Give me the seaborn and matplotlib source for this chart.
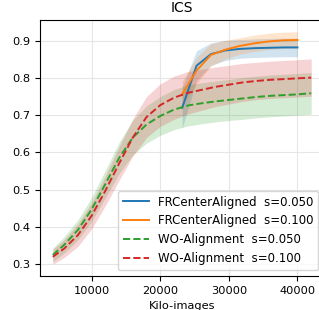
import numpy as np
import pandas as pd
import seaborn as sns
import matplotlib
matplotlib.use('Agg')
import matplotlib.pyplot as plt

# WO-Alignment runs (kimg, mean, band half-width)
wo_kimg = [4350, 6000, 8000, 10000, 12000, 14000, 16000, 18000, 20000, 22000,
           24000, 26000, 28000, 30000, 32000, 34000, 36000, 38000, 40000, 42000]
wo_s005 = [0.325, 0.352, 0.392, 0.447, 0.515, 0.585, 0.640, 0.675, 0.698, 0.715,
           0.726, 0.732, 0.737, 0.741, 0.745, 0.749, 0.752, 0.754, 0.756, 0.759]
wo_s005_sd = [0.018, 0.022, 0.027, 0.032, 0.037, 0.042, 0.046, 0.050, 0.052, 0.054,
              0.055, 0.055, 0.055, 0.055, 0.056, 0.056, 0.056, 0.056, 0.056, 0.056]
wo_s010 = [0.320, 0.342, 0.378, 0.430, 0.497, 0.570, 0.640, 0.695, 0.727, 0.747,
           0.760, 0.768, 0.776, 0.782, 0.788, 0.792, 0.795, 0.797, 0.799, 0.801]
wo_s010_sd = [0.020, 0.024, 0.030, 0.035, 0.040, 0.045, 0.050, 0.055, 0.057, 0.058,
              0.057, 0.055, 0.053, 0.052, 0.051, 0.050, 0.050, 0.050, 0.050, 0.050]

# FRCenterAligned runs
fr_kimg = [23200, 25300, 27400, 29500, 31600, 33700, 35800, 37900, 40000]
fr_s005 = [0.720, 0.833, 0.864, 0.874, 0.878, 0.880, 0.881, 0.882, 0.882]
fr_s005_sd = [0.055, 0.040, 0.030, 0.027, 0.025, 0.025, 0.025, 0.025, 0.025]
fr_s010 = [0.756, 0.820, 0.862, 0.876, 0.886, 0.893, 0.898, 0.901, 0.902]
fr_s010_sd = [0.035, 0.035, 0.030, 0.025, 0.022, 0.022, 0.022, 0.022, 0.022]

plt.rcParams['font.size'] = 8.2

fig = plt.figure(figsize=(3.19, 3.10), dpi=100)
ax = fig.add_axes([0.125, 0.110, 0.891, 0.825])

series = [
    ('FRCenterAligned  s=0.050', fr_kimg, fr_s005, fr_s005_sd, 'tab:blue', '-'),
    ('FRCenterAligned  s=0.100', fr_kimg, fr_s010, fr_s010_sd, 'tab:orange', '-'),
    ('WO-Alignment  s=0.050', wo_kimg, wo_s005, wo_s005_sd, 'tab:green', '--'),
    ('WO-Alignment  s=0.100', wo_kimg, wo_s010, wo_s010_sd, 'tab:red', '--'),
]

for label, x, y, sd, color, ls in series:
    df = pd.DataFrame({'kimg': x, 'ics': y})
    sns.lineplot(data=df, x='kimg', y='ics', ax=ax, color=color, linestyle=ls,
                 linewidth=1.4, label=label)
    y = np.array(y)
    sd = np.array(sd)
    ax.fill_between(x, y - sd, y + sd, color=color, alpha=0.2, linewidth=0)

ax.set_title('ICS', fontsize=10)
ax.set_xlabel('Kilo-images')
ax.set_ylabel('')
ax.set_xticks([10000, 20000, 30000, 40000])
ax.set_yticks([0.3, 0.4, 0.5, 0.6, 0.7, 0.8, 0.9])
ax.grid(True, color='#e6e6e6', linewidth=0.8)
ax.set_axisbelow(True)
ax.legend(loc='lower right', fontsize=8.5, handlelength=2.2)

fig.savefig('out.png', dpi=100)
